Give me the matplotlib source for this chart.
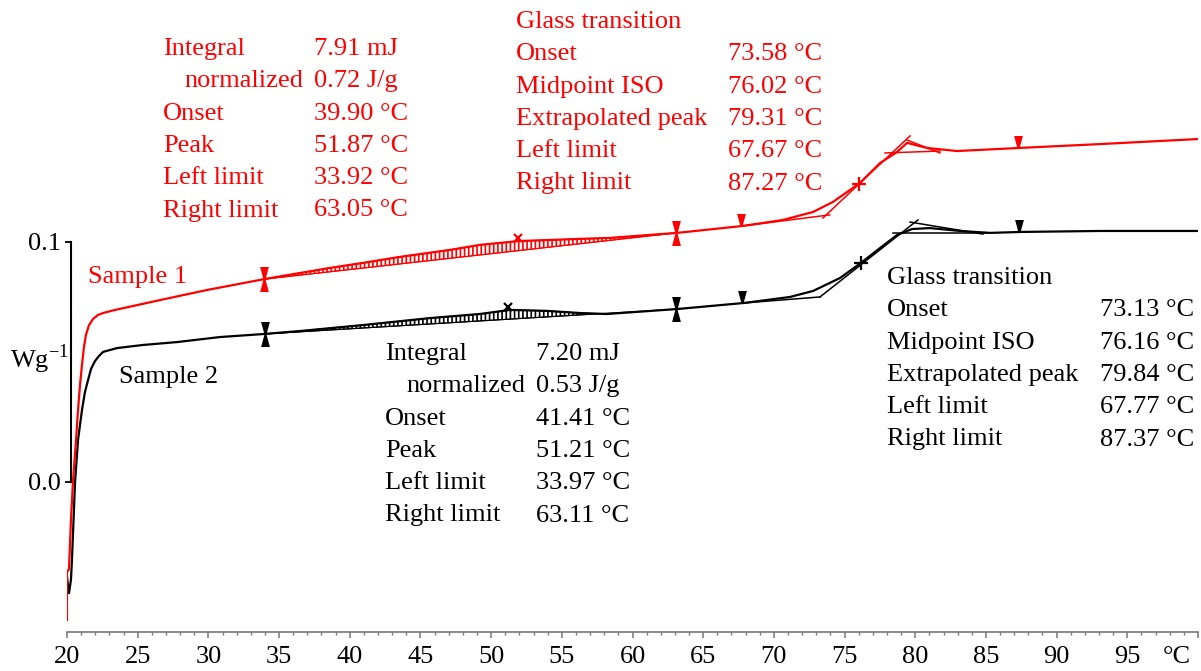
import numpy as np
import matplotlib.pyplot as plt
from matplotlib.path import Path

plt.rcParams['font.family'] = ['Liberation Serif', 'DejaVu Serif']
plt.rcParams['mathtext.fontset'] = 'custom'
plt.rcParams['mathtext.rm'] = 'Liberation Serif'
plt.rcParams['hatch.linewidth'] = 1.2

# Sample 1 (red) DSC curve
temp1 = [20.00, 20.00, 20.14, 20.28, 20.42, 20.64, 20.78, 20.92, 21.06, 21.20,
         21.34, 21.56, 21.84, 22.19, 22.55, 23.40, 26.58, 29.90, 34.01, 38.60,
         40.94, 43.55, 47.09, 49.21, 51.97, 53.95, 56.29, 58.41, 63.15, 67.82,
         70.65, 72.77, 74.18, 76.09, 77.51, 78.71, 79.42, 80.83, 82.95, 87.41,
         93.07, 100.0]
heat1 = [-0.0575, -0.0375, -0.0363, -0.0158, 0.0000, 0.0175, 0.0300, 0.0404, 0.0488, 0.0563,
         0.0613, 0.0654, 0.0679, 0.0696, 0.0704, 0.0717, 0.0758, 0.0800, 0.0846, 0.0892,
         0.0913, 0.0938, 0.0967, 0.0988, 0.1004, 0.1008, 0.1013, 0.1017, 0.1038, 0.1067,
         0.1092, 0.1125, 0.1167, 0.1246, 0.1329, 0.1375, 0.1413, 0.1392, 0.1379, 0.1392,
         0.1408, 0.1429]

# Sample 2 (black)
temp2 = [20.00, 20.14, 20.28, 20.35, 20.57, 20.78, 21.06, 21.27, 21.49, 21.70,
         21.98, 22.26, 22.55, 23.04, 23.54, 25.38, 27.78, 30.82, 34.01, 36.48,
         40.94, 45.68, 49.21, 51.34, 53.95, 56.29, 58.20, 63.22, 67.89, 71.14,
         72.77, 74.68, 76.16, 77.51, 78.71, 79.77, 81.04, 83.17, 85.29, 87.55,
         93.07, 100.0]
heat2 = [-0.0396, -0.0463, -0.0408, -0.0325, 0.0000, 0.0175, 0.0300, 0.0375, 0.0425, 0.0471,
         0.0504, 0.0525, 0.0542, 0.0550, 0.0558, 0.0571, 0.0583, 0.0604, 0.0617, 0.0629,
         0.0654, 0.0683, 0.0700, 0.0717, 0.0713, 0.0704, 0.0700, 0.0721, 0.0746, 0.0771,
         0.0796, 0.0850, 0.0913, 0.0975, 0.1029, 0.1054, 0.1058, 0.1046, 0.1038, 0.1042,
         0.1046, 0.1046]

# evaluation results
peak1 = {"left": 33.92, "right": 63.05, "peak": 51.87}
glass1 = {"left": 67.67, "right": 87.27, "mid": 76.02}
peak2 = {"left": 33.97, "right": 63.11, "peak": 51.21}
glass2 = {"left": 67.77, "right": 87.37, "mid": 76.16}

# tangent construction lines (x pairs, y pairs)
tangents1 = [([67.82, 73.95], [0.1067, 0.1113]),
             ([73.47, 79.63], [0.1100, 0.1442]),
             ([77.86, 81.75], [0.1371, 0.1379]),
             ([79.42, 81.75], [0.1425, 0.1371])]
tangents2 = [([67.89, 73.26], [0.0746, 0.0771]),
             ([73.26, 80.19], [0.0771, 0.1092]),
             ([78.43, 85.15], [0.1038, 0.1038]),
             ([79.63, 84.79], [0.1083, 0.1033])]

table1_lab = ["Integral", "normalized", "Onset", "Peak", "Left limit", "Right limit"]
table1_val = ["7.91 mJ", "0.72 J/g", "39.90 °C", "51.87 °C", "33.92 °C", "63.05 °C"]
table2_val = ["7.20 mJ", "0.53 J/g", "41.41 °C", "51.21 °C", "33.97 °C", "63.11 °C"]
glass_lab = ["Glass transition", "Onset", "Midpoint ISO", "Extrapolated peak", "Left limit", "Right limit"]
glass1_val = ["", "73.58 °C", "76.02 °C", "79.31 °C", "67.67 °C", "87.27 °C"]
glass2_val = ["", "73.13 °C", "76.16 °C", "79.84 °C", "67.77 °C", "87.37 °C"]

W, H = 1201, 671
fig = plt.figure(figsize=(W / 100, H / 100), dpi=100)
ax = fig.add_axes([67 / W, 39 / H, 1131 / W, 630 / H])
ax.set_xlim(20, 100)
ax.set_ylim(-0.0625, 0.2)

hourglass = Path([(-0.35, 1), (0.35, 1), (0.08, 0), (0.35, -1), (-0.35, -1), (-0.08, 0), (-0.35, 1)],
                 [Path.MOVETO] + [Path.LINETO] * 5 + [Path.CLOSEPOLY])
halfglass = Path([(-0.35, 1), (0.35, 1), (0.08, 0), (-0.08, 0), (-0.35, 1)],
                 [Path.MOVETO] + [Path.LINETO] * 3 + [Path.CLOSEPOLY])


def draw_sample(t, h, pk, gl, tangents, col):
    t = np.array(t)
    h = np.array(h)
    ax.plot(t, h, color=col, lw=1.6, zorder=3)
    # integration area between curve and straight baseline
    yl = np.interp(pk["left"], t, h)
    yr = np.interp(pk["right"], t, h)
    sel = (t > pk["left"]) & (t < pk["right"])
    tt = np.concatenate([[pk["left"]], t[sel], [pk["right"]]])
    yy = np.interp(tt, t, h)
    base = np.interp(tt, [pk["left"], pk["right"]], [yl, yr])
    ax.fill_between(tt, base, yy, where=yy >= base, interpolate=True,
                    facecolor='none', edgecolor=col, hatch='||||', lw=0.8, zorder=2)
    ax.plot([pk["left"], pk["right"]], [yl, yr], color=col, lw=0.8, zorder=2)
    for tx, ty in tangents:
        ax.plot(tx, ty, color=col, lw=1.1, zorder=3)
    # markers
    for x in (pk["left"], pk["right"]):
        ax.plot(x, np.interp(x, t, h), marker=hourglass, ms=18, color=col, mew=0, zorder=4)
    for x in (gl["left"], gl["right"]):
        ax.plot(x, np.interp(x, t, h), marker=halfglass, ms=18, color=col, mew=0, zorder=4)
    ax.plot(pk["peak"], np.interp(pk["peak"], t, h) + 0.0015, marker='x', ms=6, mew=1.6, color=col, zorder=4)
    ax.plot(gl["mid"], np.interp(gl["mid"], t, h), marker='+', ms=10, mew=1.6, color=col, zorder=4)


draw_sample(temp2, heat2, peak2, glass2, tangents2, 'black')
draw_sample(temp1, heat1, peak1, glass1, tangents1, 'red')

# axes styling
for s in ('top', 'right'):
    ax.spines[s].set_visible(False)
ax.spines['left'].set_position(('data', 20.28))
ax.spines['left'].set_bounds(0, 0.1)
ax.spines['left'].set_linewidth(1.5)
ax.spines['bottom'].set_color('#777777')
ax.spines['bottom'].set_linewidth(1.2)
ax.set_yticks([0.0, 0.1])
ax.set_yticklabels(['0.0', '0.1'])
ax.set_xticks(np.arange(20, 101, 5))
ax.set_xticklabels([str(v) for v in range(20, 100, 5)] + [''])
ax.set_xticks(np.arange(20, 101, 1), minor=True)
ax.tick_params(axis='y', length=4, width=1.3, labelsize=19, pad=3)
ax.tick_params(axis='x', which='major', length=4, width=1.1, color='#777777', labelsize=19, pad=6)
ax.tick_params(axis='x', which='minor', length=2.5, width=1.0, color='#777777')

fs = 19


def px(x, y):
    return x / W, 1 - y / H


fig.text(*px(1163, 663), '°C', fontsize=19, va='baseline')
fig.text(*px(10, 368), 'Wg$^{\\mathrm{-1}}$', fontsize=fs, va='baseline')
fig.text(*px(88, 283), 'Sample 1', fontsize=fs, color='red', va='baseline')
fig.text(*px(119, 383), 'Sample 2', fontsize=fs, color='black', va='baseline')

row = 32.3
for i in range(6):
    xl = 184 if i == 1 else 163
    fig.text(*px(xl, 55 + i * row), table1_lab[i], fontsize=fs, color='red', va='baseline')
    fig.text(*px(314, 55 + i * row), table1_val[i], fontsize=fs, color='red', va='baseline')
    xl = 406 if i == 1 else 385
    fig.text(*px(xl, 360 + i * row), table1_lab[i], fontsize=fs, color='black', va='baseline')
    fig.text(*px(536, 360 + i * row), table2_val[i], fontsize=fs, color='black', va='baseline')
    fig.text(*px(516, 28 + i * row), glass_lab[i], fontsize=fs, color='red', va='baseline')
    fig.text(*px(728, 28 + i * row), glass1_val[i], fontsize=fs, color='red', va='baseline')
    fig.text(*px(887, 284 + i * row), glass_lab[i], fontsize=fs, color='black', va='baseline')
    fig.text(*px(1100, 284 + i * row), glass2_val[i], fontsize=fs, color='black', va='baseline')

fig.savefig('out.png', dpi=100)
